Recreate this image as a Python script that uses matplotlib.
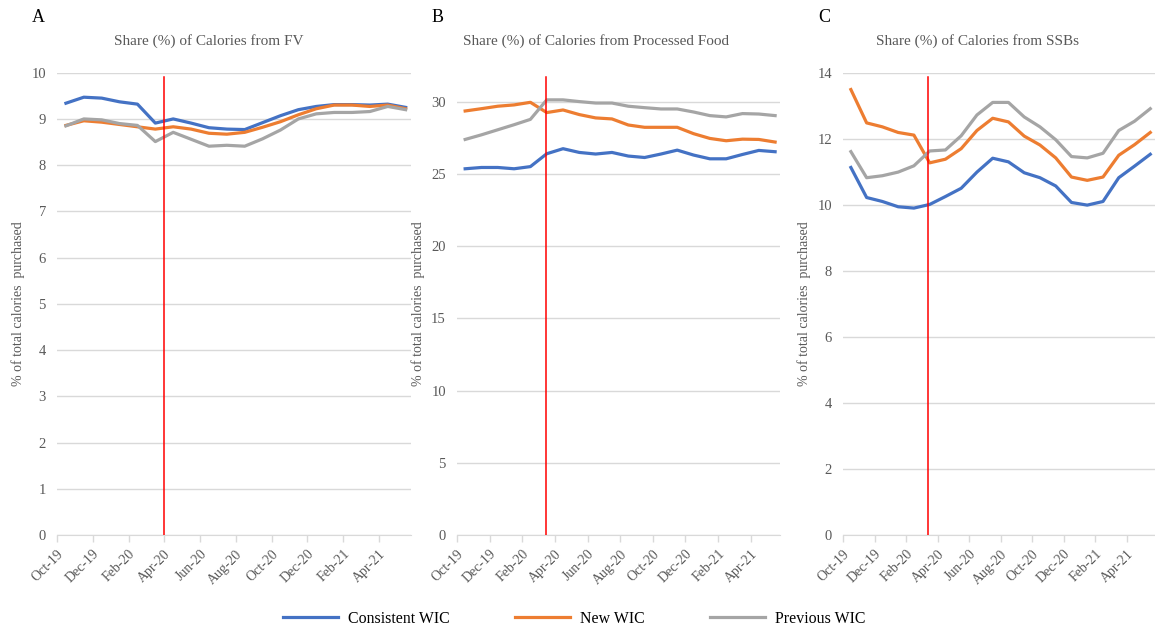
"""
WIC calorie share line charts, three panels.
"""

import numpy as np
import matplotlib.pyplot as plt

# colours (Excel default palette)
BLUE = '#4472C4'
ORANGE = '#ED7D31'
GRAY = '#A5A5A5'
TEXT_GRAY = '#595959'
GRID = '#D9D9D9'

plt.rcParams['font.family'] = ['Liberation Serif', 'DejaVu Serif']

months = ['Oct-19', 'Nov-19', 'Dec-19', 'Jan-20', 'Feb-20', 'Mar-20', 'Apr-20',
          'May-20', 'Jun-20', 'Jul-20', 'Aug-20', 'Sep-20', 'Oct-20', 'Nov-20',
          'Dec-20', 'Jan-21', 'Feb-21', 'Mar-21', 'Apr-21', 'May-21']

# panel A: fruit & vegetables
fv_consistent = [9.34, 9.47, 9.45, 9.37, 9.32, 8.91, 9.00, 8.91, 8.81, 8.78,
                 8.77, 8.92, 9.07, 9.20, 9.27, 9.31, 9.31, 9.30, 9.32, 9.25]
fv_new = [8.86, 8.96, 8.93, 8.88, 8.83, 8.78, 8.83, 8.78, 8.69, 8.67,
          8.71, 8.82, 8.94, 9.09, 9.22, 9.30, 9.30, 9.27, 9.30, 9.22]
fv_previous = [8.85, 9.00, 8.98, 8.90, 8.86, 8.51, 8.71, 8.56, 8.41, 8.43,
               8.41, 8.57, 8.76, 9.00, 9.11, 9.14, 9.14, 9.16, 9.27, 9.20]

# panel B: processed food
pf_consistent = [25.35, 25.44, 25.44, 25.35, 25.50, 26.39, 26.74, 26.48, 26.37, 26.48,
                 26.23, 26.13, 26.37, 26.64, 26.30, 26.04, 26.04, 26.34, 26.62, 26.53]
pf_new = [29.35, 29.51, 29.68, 29.77, 29.95, 29.24, 29.42, 29.10, 28.87, 28.80,
          28.38, 28.22, 28.22, 28.22, 27.78, 27.45, 27.29, 27.40, 27.38, 27.20]
pf_previous = [27.38, 27.70, 28.05, 28.40, 28.77, 30.12, 30.12, 30.00, 29.90, 29.90,
               29.68, 29.58, 29.49, 29.49, 29.28, 29.03, 28.94, 29.17, 29.14, 29.03]

# panel C: sugar-sweetened beverages
ssb_consistent = [11.13, 10.22, 10.10, 9.94, 9.90, 10.01, 10.25, 10.50, 10.99, 11.41,
                  11.30, 10.97, 10.82, 10.57, 10.07, 9.99, 10.10, 10.82, 11.17, 11.53]
ssb_new = [13.49, 12.48, 12.36, 12.19, 12.11, 11.27, 11.38, 11.70, 12.25, 12.62,
           12.51, 12.08, 11.81, 11.42, 10.84, 10.74, 10.84, 11.50, 11.82, 12.19]
ssb_previous = [11.61, 10.82, 10.88, 10.99, 11.18, 11.63, 11.66, 12.09, 12.72, 13.10,
                13.10, 12.66, 12.36, 11.97, 11.46, 11.42, 11.56, 12.25, 12.53, 12.91]

panels = [
    ('A', 'Share (%) of Calories from FV', fv_consistent, fv_new, fv_previous,
     (0, 10), np.arange(0, 11, 1), 6.0, (57, 411)),
    ('B', 'Share (%) of Calories from Processed Food', pf_consistent, pf_new, pf_previous,
     (0, 32), np.arange(0, 31, 5), 5.45, (457, 780)),
    ('C', 'Share (%) of Calories from SSBs', ssb_consistent, ssb_new, ssb_previous,
     (0, 14), np.arange(0, 15, 2), 5.4, (843, 1155)),
]

W, H = 1155, 631
fig = plt.figure(figsize=(W / 100, H / 100), dpi=100)

x = np.arange(len(months)) + 0.5
tick_pos = np.arange(0, len(months), 2)
tick_labels = months[::2]

top_px, bottom_px = 72.7, 535
lines = []
for letter, title, cons, new, prev, ylim, yticks, red_x, (l_px, r_px) in panels:
    ax = fig.add_axes([l_px / W, (H - bottom_px) / H,
                       (r_px - l_px) / W, (bottom_px - top_px) / H])
    h1, = ax.plot(x, cons, color=BLUE, lw=2.3, label='Consistent WIC')
    h2, = ax.plot(x, new, color=ORANGE, lw=2.3, label='New WIC')
    h3, = ax.plot(x, prev, color=GRAY, lw=2.3, label='Previous WIC')
    lines = [h1, h2, h3]
    ax.axvline(red_x, ymin=0, ymax=0.99, color='red', lw=1.1, zorder=5)

    ax.set_xlim(0, 19.8)
    ax.set_ylim(*ylim)
    ax.set_yticks(yticks)
    ax.set_xticks(tick_pos)
    ax.set_xticklabels(tick_labels, rotation=45, ha='right', rotation_mode='anchor')
    ax.tick_params(axis='x', colors=GRID, labelcolor=TEXT_GRAY, labelsize=10,
                   length=5, width=1, pad=4)
    ax.tick_params(axis='y', length=0, labelcolor=TEXT_GRAY, labelsize=10.5, pad=8)
    ax.grid(axis='y', color=GRID, lw=1)
    ax.set_axisbelow(True)
    for s in ['top', 'right', 'left']:
        ax.spines[s].set_visible(False)
    ax.spines['bottom'].set_color(GRID)

    ax.set_ylabel('% of total calories  purchased', color=TEXT_GRAY, fontsize=10)
    ax.yaxis.set_label_coords(-32 / (r_px - l_px), 0.5)
    ax.set_title(title, color=TEXT_GRAY, fontsize=11, x=0.43, pad=20)

    fig.text((l_px - 25) / W, 1 - 18 / H, letter, fontsize=13, va='center', ha='left')

fig.legend(handles=lines, loc='lower center', bbox_to_anchor=(0.497, -0.016),
           ncol=3, frameon=False, fontsize=11.4, handlelength=3.5,
           columnspacing=4.1, handletextpad=0.63)

plt.savefig('out.png')
